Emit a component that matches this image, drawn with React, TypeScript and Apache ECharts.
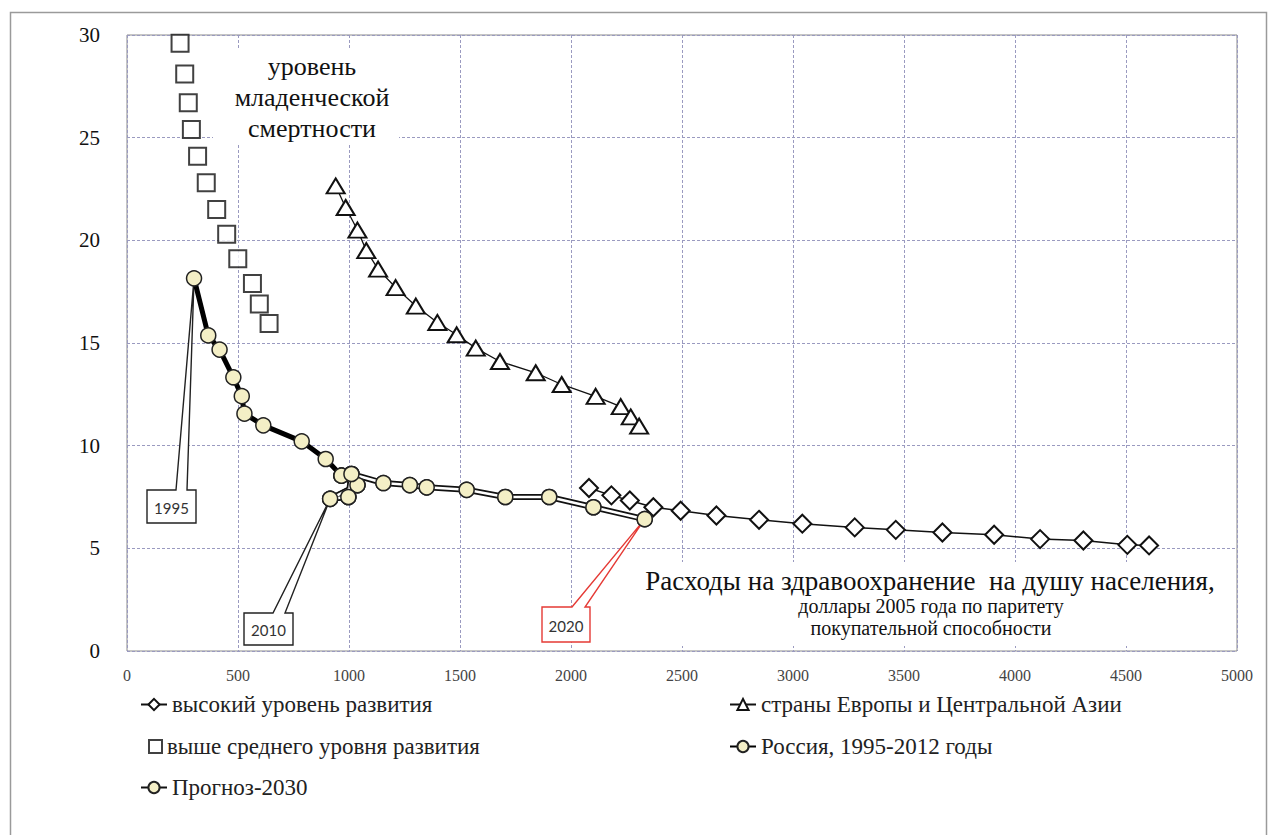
import React, { useEffect, useRef } from "react";
import * as echarts from "echarts";

// ---- data ----
const highDevX = [2081, 2182, 2265, 2371, 2494, 2655, 2847, 3042, 3278, 3463, 3673, 3906, 4113, 4308, 4506, 4604];
const highDevY = [7.94, 7.58, 7.33, 7.0, 6.83, 6.6, 6.39, 6.2, 6.02, 5.9, 5.77, 5.66, 5.45, 5.38, 5.17, 5.14];

const ecaX = [940, 985, 1038, 1078, 1131, 1210, 1301, 1398, 1485, 1571, 1680, 1841, 1958, 2111, 2224, 2269, 2307];
const ecaY = [22.65, 21.6, 20.5, 19.5, 18.6, 17.7, 16.8, 16.0, 15.4, 14.75, 14.1, 13.55, 12.98, 12.4, 11.9, 11.4, 10.95];

const upperMidX = [239, 260, 276, 290, 318, 357, 404, 449, 499, 565, 596, 640];
const upperMidY = [29.6, 28.1, 26.7, 25.4, 24.1, 22.8, 21.5, 20.3, 19.1, 17.9, 16.9, 15.95];

const russiaYears = ["1995", "2000", "2001", "2002", "2003", "2004", "2005", "2006", "2007", "2008", "2009", "2010", "2011", "2012"];
const russiaX = [302, 366, 417, 479, 517, 529, 614, 787, 895, 966, 1038, 915, 997, 1011];
const russiaY = [18.15, 15.37, 14.68, 13.33, 12.41, 11.56, 10.99, 10.21, 9.35, 8.54, 8.08, 7.41, 7.5, 8.62];

const forecastYears = ["2008", "2009", "2010", "2011", "2012", "2013", "2014", "2015", "2016", "2017", "2018", "2019", "2020"];
const forecastX = [966, 1038, 915, 997, 1011, 1155, 1274, 1350, 1530, 1704, 1902, 2101, 2332];
const forecastY = [8.54, 8.08, 7.41, 7.5, 8.62, 8.18, 8.08, 7.97, 7.85, 7.5, 7.5, 7.0, 6.42];

const callouts = [
  { label: "1995", x: 302, y: 18.15 },
  { label: "2010", x: 915, y: 7.41 },
  { label: "2020", x: 2332, y: 6.42 },
];

const titleLines = ["уровень", "младенческой", "смертности"];
const axisTitle = "Расходы на здравоохранение  на душу населения,";
const axisSubLines = ["доллары 2005 года по паритету", "покупательной способности"];

const S_HIGH = "высокий уровень развития";
const S_ECA = "страны Европы и Центральной Азии";
const S_UPPER = "выше среднего уровня развития";
const S_RUS = "Россия, 1995-2012 годы";
const S_FC = "Прогноз-2030";

const zip = (xs: number[], ys: number[]) => xs.map((x, i) => [x, ys[i]]);

const SERIF = "Liberation Serif";
const CREAM = "#f4efc6";

export default function App() {
  const ref = useRef<HTMLDivElement>(null);

  useEffect(() => {
    if (!ref.current) return;
    const chart = echarts.init(ref.current, undefined, { renderer: "svg" });

    const legendCommon = {
      orient: "horizontal" as const,
      itemWidth: 26,
      itemHeight: 14,
      padding: 0,
      selectedMode: false,
      textStyle: { fontFamily: SERIF, fontSize: 23, color: "#222" },
    };

    const option: any = {
      animation: false,
      backgroundColor: "#fff",
      textStyle: { fontFamily: SERIF },
      grid: {
        left: 127,
        top: 35,
        width: 1110,
        height: 616,
        show: true,
        borderColor: "#8a8a8a",
        borderWidth: 1,
        backgroundColor: "transparent",
      },
      xAxis: {
        type: "value",
        min: 0,
        max: 5000,
        interval: 500,
        axisLine: { show: false },
        axisTick: { show: false },
        axisLabel: {
          fontFamily: SERIF,
          fontSize: 16,
          color: "#444",
          margin: 16,
          formatter: (v: number) => String(v),
        },
        splitLine: { show: true, lineStyle: { color: "#9a9ac0", width: 1, type: [3, 2] } },
      },
      yAxis: {
        type: "value",
        min: 0,
        max: 30,
        interval: 5,
        axisLine: { show: false },
        axisTick: { show: false },
        axisLabel: {
          fontFamily: SERIF,
          fontSize: 21,
          color: "#111",
          margin: 27,
          formatter: (v: number) => String(v),
        },
        splitLine: { show: true, lineStyle: { color: "#9a9ac0", width: 1, type: [3, 2] } },
      },
      legend: [
        { ...legendCommon, data: [S_HIGH], left: 140, top: 693 },
        { ...legendCommon, data: [S_ECA], left: 729, top: 693 },
        { ...legendCommon, itemWidth: 13, itemHeight: 13, data: [S_UPPER], left: 148, top: 735 },
        { ...legendCommon, data: [S_RUS], left: 729, top: 735 },
        { ...legendCommon, data: [S_FC], left: 140, top: 776 },
      ],
      series: [
        {
          name: S_UPPER,
          type: "scatter",
          data: zip(upperMidX, upperMidY),
          symbol: "rect",
          symbolSize: 17,
          itemStyle: { color: "#fff", borderColor: "#111", borderWidth: 2 },
          z: 3,
        },
        {
          name: S_ECA,
          type: "line",
          data: zip(ecaX, ecaY),
          symbol: "triangle",
          symbolSize: [18, 15],
          showAllSymbol: true,
          lineStyle: { color: "#111", width: 1.3 },
          itemStyle: { color: "#fff", borderColor: "#111", borderWidth: 2 },
          z: 3,
        },
        {
          name: S_HIGH,
          type: "line",
          data: zip(highDevX, highDevY),
          symbol: "diamond",
          symbolSize: [18, 18],
          showAllSymbol: true,
          lineStyle: { color: "#111", width: 1.5 },
          itemStyle: { color: "#fff", borderColor: "#111", borderWidth: 2 },
          z: 3,
        },
        {
          name: S_RUS,
          type: "line",
          data: russiaX.map((x, i) => ({ name: russiaYears[i], value: [x, russiaY[i]] })),
          symbol: "circle",
          symbolSize: 15,
          showAllSymbol: true,
          lineStyle: { color: "#000", width: 5 },
          itemStyle: { color: CREAM, borderColor: "#222", borderWidth: 1.5 },
          z: 4,
        },
        {
          name: S_FC,
          type: "line",
          data: forecastX.map((x, i) => ({ name: forecastYears[i], value: [x, forecastY[i]] })),
          symbol: "circle",
          symbolSize: 15,
          showAllSymbol: true,
          lineStyle: { color: "#111", width: 6 },
          itemStyle: { color: CREAM, borderColor: "#222", borderWidth: 1.5 },
          z: 5,
        },
        {
          name: "forecast-inner",
          type: "line",
          data: zip(forecastX, forecastY),
          symbol: "none",
          lineStyle: { color: "#fff", width: 2.5 },
          z: 6,
          silent: true,
        },
        {
          name: "forecast-markers",
          type: "line",
          data: zip(forecastX, forecastY),
          symbol: "circle",
          symbolSize: 15,
          showAllSymbol: true,
          lineStyle: { width: 0, opacity: 0 },
          itemStyle: { color: CREAM, borderColor: "#222", borderWidth: 1.5 },
          z: 7,
          silent: true,
        },
      ],
    };

    chart.setOption(option);

    const boxes = [
      { L: 147, T: 490, R: 196, B: 523, x1: 176, x2: 187, stroke: "#222" },
      { L: 244, T: 613, R: 293, B: 645, x1: 273, x2: 285, stroke: "#222" },
      { L: 542, T: 607, R: 590, B: 642, x1: 572, x2: 585, stroke: "#e53a35" },
    ];
    const graphics: any[] = [];

    graphics.push({
      type: "rect",
      z: 0,
      shape: { x: 10.5, y: 12.5, width: 1256, height: 840 },
      style: { fill: "none", stroke: "#9a9a9a", lineWidth: 1.5 },
      silent: true,
    });

    const textStyle = (text: string, size: number, family: string, fill = "#111") => ({
      text,
      fontFamily: family,
      fontSize: size,
      fill,
      align: "center",
      verticalAlign: "middle",
    });

    callouts.forEach((c, i) => {
      const b = boxes[i];
      const tip = chart.convertToPixel({ gridIndex: 0 }, [c.x, c.y]) as number[];
      graphics.push({
        type: "polygon",
        z: 1,
        shape: {
          points: [
            [b.L, b.T],
            [b.x1, b.T],
            [tip[0], tip[1]],
            [b.x2, b.T],
            [b.R, b.T],
            [b.R, b.B],
            [b.L, b.B],
          ],
        },
        style: { fill: "#fff", stroke: b.stroke, lineWidth: 1.4 },
        silent: true,
      });
      graphics.push({
        type: "text",
        z: 8,
        x: (b.L + b.R) / 2,
        y: (b.T + b.B) / 2 + 1,
        style: textStyle(c.label, 15, "Lato", "#333"),
        silent: true,
      });
    });

    graphics.push({
      type: "rect",
      z: 1,
      shape: { x: 213, y: 50, width: 186, height: 93 },
      style: { fill: "#fff", stroke: "none" },
      silent: true,
    });
    titleLines.forEach((t, i) => {
      graphics.push({
        type: "text",
        z: 8,
        x: 312,
        y: 66 + i * 31,
        style: textStyle(t, 26, SERIF),
        silent: true,
      });
    });

    graphics.push({
      type: "rect",
      z: 1,
      shape: { x: 636, y: 562, width: 600, height: 84 },
      style: { fill: "#fff", stroke: "none" },
      silent: true,
    });
    graphics.push({
      type: "text",
      z: 8,
      x: 930,
      y: 581,
      style: textStyle(axisTitle, 27, SERIF),
      silent: true,
    });
    axisSubLines.forEach((t, i) => {
      graphics.push({
        type: "text",
        z: 8,
        x: 931,
        y: 606 + i * 22,
        style: textStyle(t, 20, SERIF),
        silent: true,
      });
    });

    chart.setOption({ graphic: graphics });

    return () => {
      chart.dispose();
    };
  }, []);

  return (
    <div
      ref={ref}
      style={{ position: "fixed", left: 0, top: 0, width: 1268, height: 835, background: "#fff" }}
    />
  );
}
